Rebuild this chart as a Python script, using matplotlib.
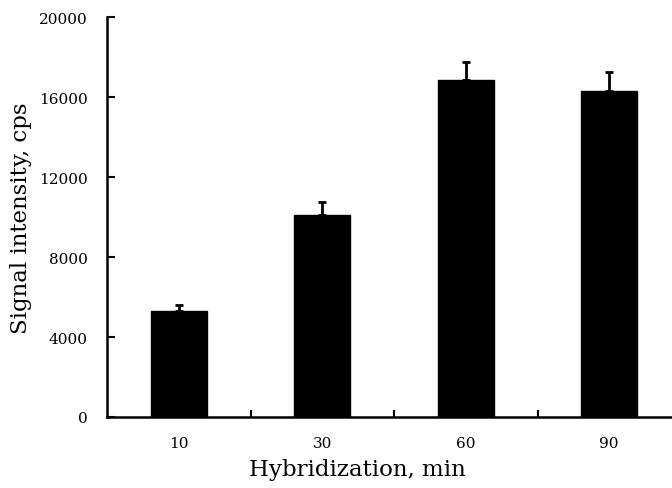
import matplotlib
matplotlib.use("Agg")
import matplotlib.pyplot as plt
import numpy as np

categories = ["10", "30", "60", "90"]
values = [5300, 10100, 16850, 16280]
errors = [300, 650, 900, 950]
yticks = [0, 4000, 8000, 12000, 16000, 20000]

plt.rcParams['font.family'] = ['DejaVu Serif']

W, H = 672, 489
fig = plt.figure(figsize=(W/100, H/100), dpi=100)
left, right, top, bottom = 107, 681, 18, 418
ax = fig.add_axes([left/W, 1-bottom/H, (right-left)/W, (bottom-top)/H])

x = np.arange(len(categories))
ax.bar(x, values, width=0.39, color='black', edgecolor='black', zorder=2)
ax.errorbar(x, values, yerr=[np.zeros(len(values)), errors], fmt='none',
            ecolor='black', elinewidth=2, capsize=3, capthick=2, zorder=3)

ax.set_xlim(-0.5, len(categories)-0.5)
ax.set_ylim(0, 20000)
ax.set_yticks(yticks)
ax.set_yticklabels([str(v) for v in yticks], fontsize=11)

ax.set_xticks(x)
ax.set_xticklabels(categories, fontsize=11)
ax.tick_params(axis='x', which='major', length=0, pad=14)
ax.set_xticks(np.arange(0.5, len(categories)-0.5, 1.0), minor=True)
ax.tick_params(axis='x', which='minor', direction='in', length=5, width=1.5)
ax.tick_params(axis='y', direction='in', length=6, width=1.5, pad=14)

for s in ['top', 'right']:
    ax.spines[s].set_visible(False)
for s in ['left', 'bottom']:
    ax.spines[s].set_linewidth(1.8)

ax.set_xlabel("Hybridization, min", fontsize=16.5)
ax.xaxis.set_label_coords((357 - left) / (right - left), -(470 - bottom) / (bottom - top))
ax.xaxis.label.set_va('center')
ax.set_ylabel("Signal intensity, cps", fontsize=16.5, labelpad=5)

fig.savefig("out.png", dpi=100)
